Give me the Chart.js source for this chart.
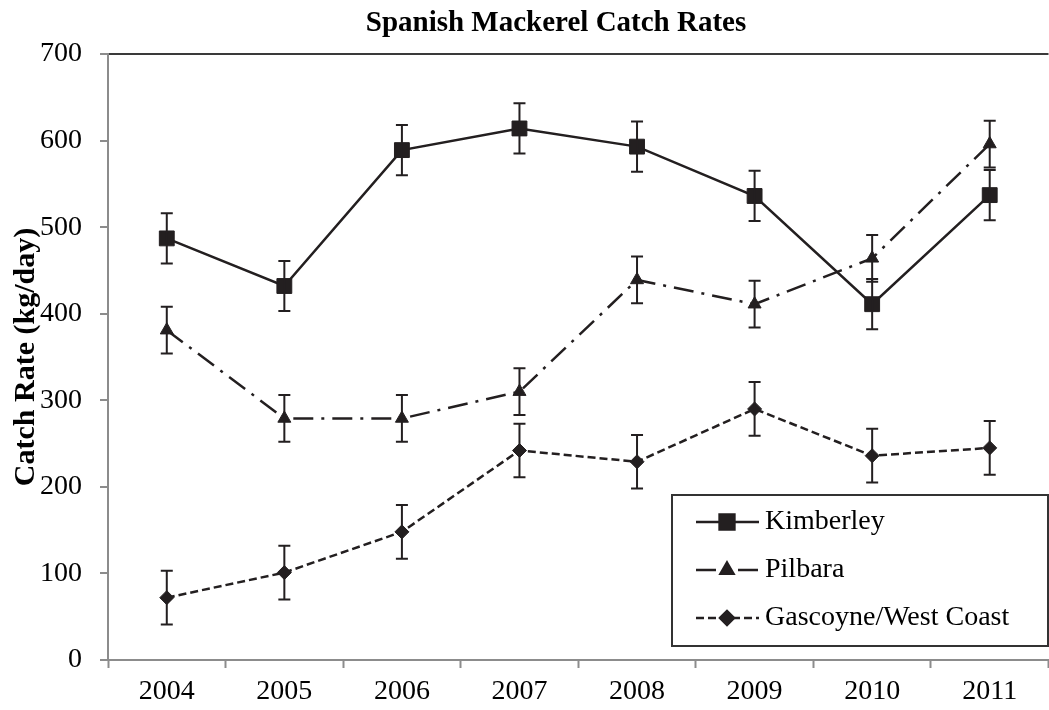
<!DOCTYPE html>
<html>
<head>
<meta charset="utf-8">
<title>Spanish Mackerel Catch Rates</title>
<script src="https://cdn.jsdelivr.net/npm/chart.js@4.4.1/dist/chart.umd.min.js"></script>
<style>
    html, body { margin: 0; padding: 0; background: #fff; overflow: hidden; }
    #wrap { width: 1049px; height: 710px; overflow: hidden; }
</style>
</head>
<body>
<div id="wrap">
    <canvas id="catchChart" width="1060" height="710"></canvas>
</div>
<script>
// Data
const years = ['2004', '2005', '2006', '2007', '2008', '2009', '2010', '2011'];
const kimberley = [487, 432, 589, 614, 593, 536, 411, 537];
const kimberleyErr = [29, 29, 29, 29, 29, 29, 29, 29];
const pilbara = [381, 279, 279, 310, 439, 411, 464, 596];
const pilbaraErr = [27, 27, 27, 27, 27, 27, 27, 27];
const gascoyne = [72, 101, 148, 242, 229, 290, 236, 245];
const gascoyneErr = [31, 31, 31, 31, 31, 31, 31, 31];
const yTicks = [0, 100, 200, 300, 400, 500, 600, 700];

const errors = [kimberleyErr, pilbaraErr, gascoyneErr];
const ink = '#231f20';
const axisGray = '#8c8c8c';
const serif = '"Liberation Serif", "Times New Roman", serif';

// error bars, title and the boxed legend
const extrasPlugin = {
    id: 'extras',
    afterDatasetsDraw(chart) {
        const ctx = chart.ctx;
        const y = chart.scales.y;
        ctx.save();
        ctx.strokeStyle = ink;
        ctx.lineWidth = 2;
        ctx.setLineDash([]);
        chart.data.datasets.forEach((ds, i) => {
            const meta = chart.getDatasetMeta(i);
            meta.data.forEach((pt, j) => {
                const top = y.getPixelForValue(ds.data[j] + errors[i][j]);
                const bot = y.getPixelForValue(ds.data[j] - errors[i][j]);
                ctx.beginPath();
                ctx.moveTo(pt.x, top); ctx.lineTo(pt.x, bot);
                ctx.moveTo(pt.x - 6, top); ctx.lineTo(pt.x + 6, top);
                ctx.moveTo(pt.x - 6, bot); ctx.lineTo(pt.x + 6, bot);
                ctx.stroke();
            });
        });
        ctx.restore();
    },
    afterDraw(chart) {
        const ctx = chart.ctx;
        ctx.save();

        // title
        ctx.fillStyle = '#000';
        ctx.font = 'bold 29px ' + serif;
        ctx.textAlign = 'center';
        ctx.textBaseline = 'middle';
        ctx.fillText('Spanish Mackerel Catch Rates', 556, 24);

        // legend box
        const box = { left: 672, top: 495, right: 1048, bottom: 646 };
        ctx.fillStyle = '#fff';
        ctx.fillRect(box.left, box.top, box.right - box.left, box.bottom - box.top);
        ctx.strokeStyle = '#333';
        ctx.lineWidth = 2;
        ctx.strokeRect(box.left, box.top, box.right - box.left, box.bottom - box.top);

        const rows = [522, 570, 618];
        chart.data.datasets.forEach((ds, i) => {
            const ry = rows[i];
            ctx.strokeStyle = ink;
            ctx.lineWidth = 2.5;
            ctx.setLineDash(i === 1 ? [20, 22] : (ds.borderDash || []));
            ctx.beginPath();
            ctx.moveTo(696, ry);
            ctx.lineTo(759, ry);
            ctx.stroke();
            ctx.setLineDash([]);
            Chart.helpers.drawPoint(ctx, {
                pointStyle: ds.pointStyle,
                radius: ds.pointRadius,
                borderWidth: 1
            }, 727, ry);
            ctx.fillStyle = ink;
            ctx.fill();
            ctx.fillStyle = '#000';
            ctx.font = '28px ' + serif;
            ctx.textAlign = 'left';
            ctx.textBaseline = 'middle';
            ctx.fillText(ds.label, 765, ry);
        });
        ctx.restore();
    }
};

const ctx = document.getElementById('catchChart').getContext('2d');

new Chart(ctx, {
    type: 'line',
    data: {
        labels: years,
        datasets: [
            {
                label: 'Kimberley',
                data: kimberley,
                borderColor: ink,
                backgroundColor: ink,
                borderWidth: 2.5,
                pointStyle: 'rect',
                pointRadius: 10.5,
                pointBorderWidth: 1,
                tension: 0
            },
            {
                label: 'Pilbara',
                data: pilbara,
                borderColor: ink,
                backgroundColor: ink,
                borderWidth: 2.5,
                borderDash: [20, 8, 3, 8],
                pointStyle: 'triangle',
                pointRadius: 7.5,
                pointBorderWidth: 1,
                tension: 0
            },
            {
                label: 'Gascoyne/West Coast',
                data: gascoyne,
                borderColor: ink,
                backgroundColor: ink,
                borderWidth: 2.5,
                borderDash: [8, 4],
                pointStyle: 'rectRot',
                pointRadius: 7,
                pointBorderWidth: 1,
                tension: 0
            }
        ]
    },
    options: {
        responsive: false,
        animation: false,
        devicePixelRatio: 1,
        layout: { padding: { top: 54, left: 0, right: 0, bottom: 0 } },
        plugins: {
            legend: { display: false },
            title: { display: false },
            tooltip: { enabled: false }
        },
        scales: {
            x: {
                offset: true,
                afterFit: s => { s.height = 50; },
                border: { color: axisGray, width: 2 },
                grid: {
                    offset: true,
                    drawOnChartArea: false,
                    tickLength: 8,
                    tickColor: axisGray,
                    tickWidth: 2
                },
                ticks: {
                    color: '#000',
                    padding: 7,
                    maxRotation: 0,
                    font: { family: serif, size: 28 }
                }
            },
            y: {
                min: 0,
                max: 700,
                afterFit: s => { s.width = 108; },
                afterBuildTicks: s => { s.ticks = yTicks.map(v => ({ value: v })); },
                border: { color: axisGray, width: 2 },
                grid: {
                    color: c => (c.tick && c.tick.value === 700 ? '#3a3a3a' : 'rgba(0,0,0,0)'),
                    lineWidth: 2,
                    tickLength: 8,
                    tickColor: axisGray,
                    tickWidth: 2
                },
                ticks: {
                    color: '#000',
                    padding: 18,
                    font: { family: serif, size: 28 }
                },
                title: {
                    display: true,
                    text: 'Catch Rate (kg/day)',
                    color: '#000',
                    padding: { top: 8, bottom: 0 },
                    font: { family: serif, size: 30, weight: 'bold' }
                }
            }
        }
    },
    plugins: [extrasPlugin]
});
</script>
</body>
</html>
